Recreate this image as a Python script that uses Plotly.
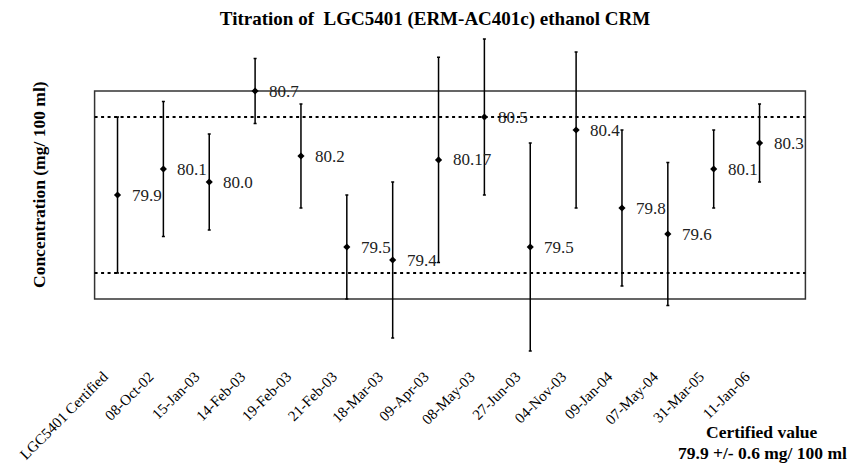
import plotly.graph_objects as go

dates = ["LGC5401 Certified", "08-Oct-02", "15-Jan-03", "14-Feb-03", "19-Feb-03",
         "21-Feb-03", "18-Mar-03", "09-Apr-03", "08-May-03", "27-Jun-03",
         "04-Nov-03", "09-Jan-04", "07-May-04", "31-Mar-05", "11-Jan-06"]
values = [79.9, 80.1, 80.0, 80.7, 80.2, 79.5, 79.4, 80.17, 80.5, 79.5,
          80.4, 79.8, 79.6, 80.1, 80.3]
uncertainty = [0.6, 0.52, 0.37, 0.25, 0.40, 0.40, 0.60, 0.79, 0.60, 0.80,
               0.60, 0.60, 0.55, 0.30, 0.30]
value_labels = ["79.9", "80.1", "80.0", "80.7", "80.2", "79.5", "79.4", "80.17",
                "80.5", "79.5", "80.4", "79.8", "79.6", "80.1", "80.3"]
certified = 79.9
certified_unc = 0.6
frame_y = (79.1, 80.7)          # value range of the framed plot box

FONT = "Liberation Serif, Times New Roman, serif"
xs = list(range(len(dates)))

fig = go.Figure()
fig.add_trace(go.Scatter(
    x=xs, y=values, mode="markers",
    marker=dict(symbol="diamond", size=5.5, color="black"),
    error_y=dict(type="data", array=uncertainty, visible=True,
                 color="black", thickness=1.5, width=1.5),
    cliponaxis=False, showlegend=False, hoverinfo="skip",
))

# framed box (the chart's plot-area border)
fig.add_shape(type="rect", xref="x", yref="y", x0=-0.5, x1=len(dates),
              y0=frame_y[0], y1=frame_y[1], layer="below",
              line=dict(color="#333", width=1.5), fillcolor="rgba(0,0,0,0)")

for lvl in (certified + certified_unc, certified - certified_unc):
    fig.add_shape(type="line", xref="x", x0=-0.5, x1=len(dates), yref="y", y0=lvl, y1=lvl,
                  layer="below", line=dict(color="black", width=2, dash="3px,3.5px"))

for x, y, t in zip(xs, values, value_labels):
    fig.add_annotation(x=x, y=y, text=t, showarrow=False, xanchor="left",
                       yanchor="middle", xshift=12,
                       font=dict(family=FONT, size=17, color="#222"))

fig.add_annotation(xref="paper", yref="paper", x=(39 - 90) / 720, y=(364 - 185) / 338,
                   xanchor="center", yanchor="middle",
                   text="<b>Concentration (mg/ 100 ml)</b>", textangle=-90,
                   showarrow=False, font=dict(family=FONT, size=17.5, color="black"))

cert_lines = ["Certified value", f"{certified} +/- {certified_unc} mg/ 100 ml"]
for line, ypx in zip(cert_lines, (432, 452.5)):
    fig.add_annotation(xref="paper", yref="paper", x=(762 - 90) / 720, y=(364 - ypx) / 338,
                       text=f"<b>{line}</b>", showarrow=False, borderpad=0,
                       xanchor="center", yanchor="middle",
                       font=dict(family=FONT, size=17.5, color="black"))

fig.update_layout(
    width=850, height=463,
    margin=dict(l=90, r=40, t=26, b=99, autoexpand=False),
    paper_bgcolor="white", plot_bgcolor="white",
    title=dict(text="<b>Titration of  LGC5401 (ERM-AC401c) ethanol CRM</b>",
               xref="container", yref="container", x=435 / 850, y=1 - 18 / 463,
               xanchor="center", yanchor="middle",
               font=dict(family=FONT, size=19, color="black")),
    xaxis=dict(range=[-0.6, 15.1], tickvals=xs, ticktext=dates, tickangle=-45,
               showgrid=False, zeroline=False, showline=False, ticks="",
               automargin=False, ticklabelstandoff=0, ticklabelshift=-14,
               tickfont=dict(family=FONT, size=15, color="black")),
    yaxis=dict(range=[78.6, 81.2], showgrid=False, zeroline=False, showline=False,
               ticks="", showticklabels=False, automargin=False),
)

fig.write_html("out.html", config={"displayModeBar": False},
               post_script="document.body.style.margin='0';document.body.style.overflow='hidden';")
